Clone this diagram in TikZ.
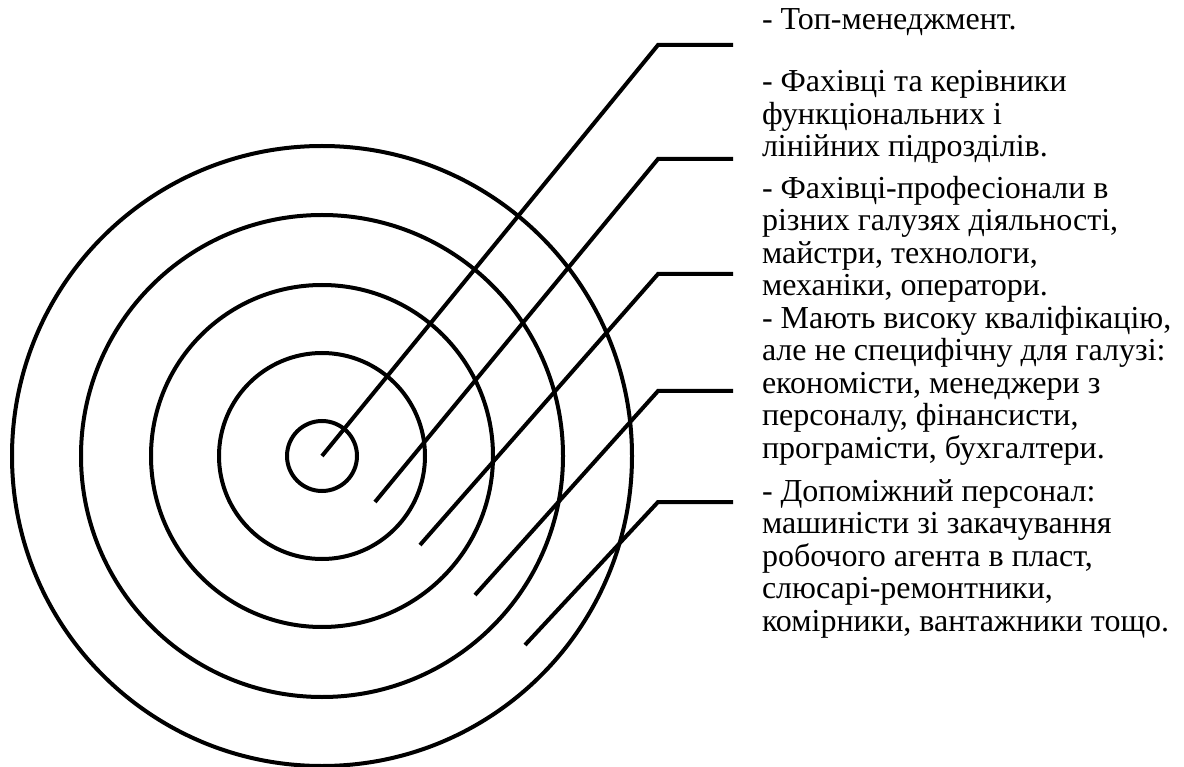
\documentclass[tikz,border=0pt]{standalone}
\usepackage{fontspec}
\setmainfont{Liberation Serif}
\begin{document}
\begin{tikzpicture}[x=1pt,y=-1pt,line width=4pt,
  ring/.style={circle,draw,minimum size=#1,inner sep=0pt},
  lbl/.style={anchor=base west,align=left,inner sep=0pt,font=\fontsize{32}{32.5}\selectfont}]
\useasboundingbox (0,0) rectangle (1184,767);
\coordinate (c) at (322,456);
\node[ring=70pt]  (r1) at (c) {};
\node[ring=206pt] (r2) at (c) {};
\node[ring=342pt] (r3) at (c) {};
\node[ring=482pt] (r4) at (c) {};
\node[ring=620pt] (r5) at (c) {};
\coordinate (s1) at (322,456); \coordinate (k1) at (658,45);  \coordinate (e1) at (733,45);
\coordinate (s2) at (375,502); \coordinate (k2) at (658,159); \coordinate (e2) at (733,159);
\coordinate (s3) at (420,545); \coordinate (k3) at (658,274); \coordinate (e3) at (733,274);
\coordinate (s4) at (475,595); \coordinate (k4) at (658,391); \coordinate (e4) at (733,391);
\coordinate (s5) at (525,645); \coordinate (k5) at (658,502); \coordinate (e5) at (733,502);
\draw (s1) -- (k1) -- (e1);
\draw (s2) -- (k2) -- (e2);
\draw (s3) -- (k3) -- (e3);
\draw (s4) -- (k4) -- (e4);
\draw (s5) -- (k5) -- (e5);
\node[lbl] (t1) at (760,30) {- Топ-менеджмент.};
\node[lbl] (t2) at (760,157) {- Фахівці та керівники\\функціональних і\\лінійних підрозділів.};
\node[lbl] (t3) at (760,296) {- Фахівці-професіонали в\\різних галузях діяльності,\\майстри, технологи,\\механіки, оператори.};
\node[lbl] (t4) at (760,458) {- Мають високу кваліфікацію,\\але не специфічну для галузі:\\економісти, менеджери з\\персоналу, фінансисти,\\програмісти, бухгалтери.};
\node[lbl] (t5) at (760,631) {- Допоміжний персонал:\\машиністи зі закачування\\робочого агента в пласт,\\слюсарі-ремонтники,\\комірники, вантажники тощо.};
\end{tikzpicture}
\end{document}
